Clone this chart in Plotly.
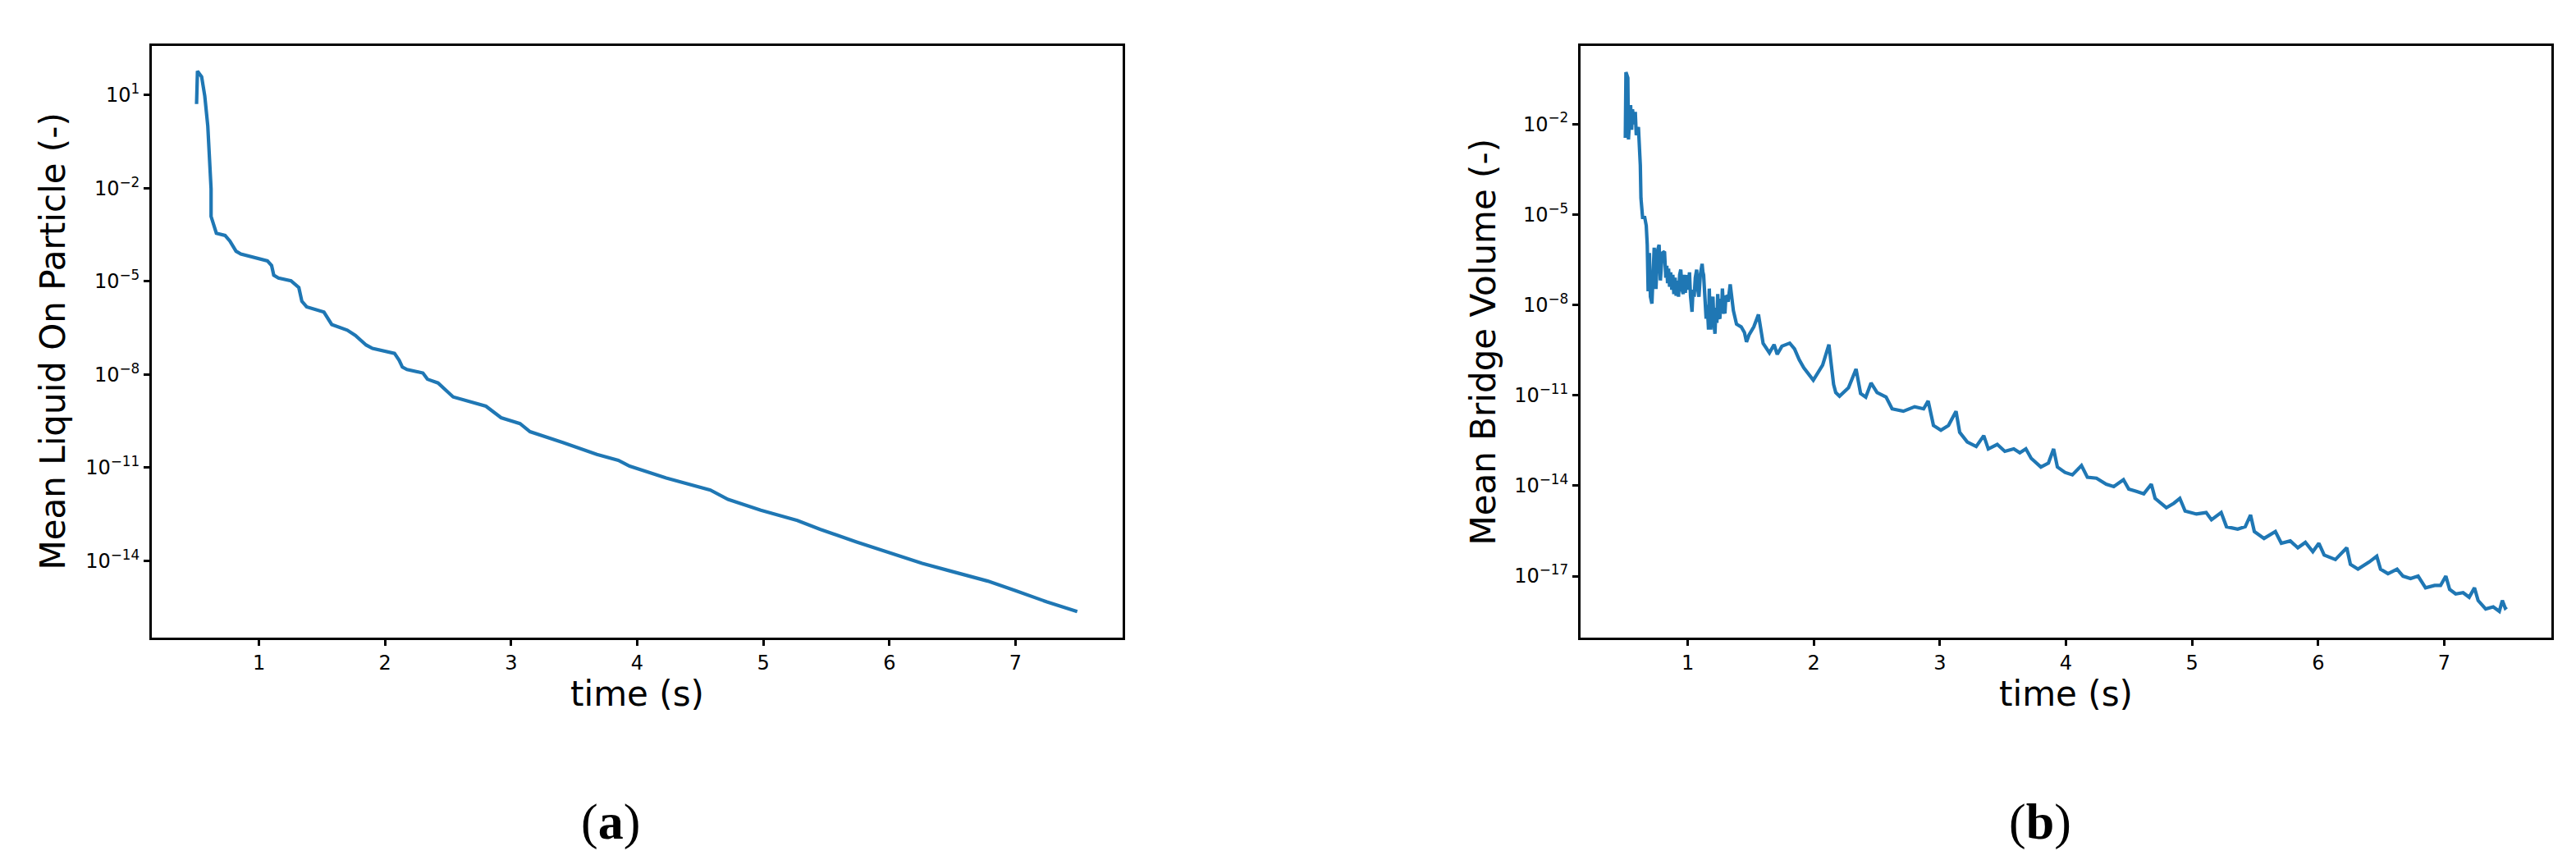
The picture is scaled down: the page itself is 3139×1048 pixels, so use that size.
import plotly.graph_objects as go

W, H = 3139, 1048

# ---- data (time in s, values stored as log10 exponents) ----
liquid_t = [0.505, 0.512, 0.545, 0.57, 0.594, 0.607, 0.62, 0.62, 0.644, 0.662, 0.731, 0.769,
            0.818, 0.856, 1.067, 1.1, 1.117, 1.154, 1.254, 1.316, 1.34, 1.378, 1.515, 1.553,
            1.577, 1.70, 1.764, 1.85, 1.90, 2.075, 2.112, 2.137, 2.174, 2.30, 2.336, 2.42,
            2.54, 2.80, 2.92, 3.07, 3.15, 3.41, 3.68, 3.85, 3.94, 4.23, 4.58, 4.72, 4.98,
            5.27, 5.45, 5.74, 6.03, 6.26, 6.46, 6.78, 7.0, 7.25, 7.49]
liquid_log10 = [0.71, 1.77, 1.59, 0.97, 0.0, -0.97, -2.02, -2.91, -3.26, -3.45, -3.52, -3.70,
                -4.03, -4.12, -4.34, -4.49, -4.80, -4.89, -4.98, -5.20, -5.64, -5.82, -5.99, -6.21,
                -6.39, -6.57, -6.74, -7.05, -7.16, -7.32, -7.54, -7.76, -7.84, -7.95, -8.15, -8.27,
                -8.72, -9.02, -9.39, -9.58, -9.84, -10.19, -10.57, -10.76, -10.95, -11.33, -11.72,
                -12.02, -12.37, -12.7, -12.98, -13.39, -13.77, -14.08, -14.3, -14.65, -14.96,
                -15.32, -15.63]

bridge_t = [0.505, 0.51, 0.525, 0.53, 0.547, 0.555, 0.562, 0.575, 0.584, 0.592, 0.609, 0.624,
            0.629, 0.642, 0.659, 0.671, 0.679, 0.686, 0.696, 0.704, 0.716, 0.734, 0.748, 0.761,
            0.773, 0.783, 0.798, 0.816,
            0.826, 0.834, 0.84, 0.848, 0.856, 0.865, 0.874, 0.882, 0.89, 0.90, 0.908, 0.918,
            0.927, 0.936, 0.945, 0.955, 0.964, 0.972, 0.981, 0.99, 1.0, 1.008, 1.014, 1.022,
            1.034, 1.042, 1.051, 1.06, 1.071, 1.08, 1.089, 1.10, 1.107, 1.114, 1.12, 1.126,
            1.146, 1.155, 1.165, 1.171, 1.177, 1.183, 1.19, 1.20, 1.208, 1.216, 1.224, 1.231,
            1.238, 1.246, 1.255, 1.262, 1.268, 1.275, 1.285, 1.295, 1.303, 1.312, 1.32, 1.328,
            1.337, 1.345, 1.362,
            1.387, 1.424, 1.45, 1.466, 1.486,
            1.524, 1.561, 1.578, 1.598, 1.648, 1.685, 1.71, 1.747, 1.809, 1.847, 1.884, 1.921,
            1.996, 2.07, 2.12, 2.157, 2.174, 2.204, 2.275, 2.335, 2.371, 2.412, 2.454, 2.502,
            2.573, 2.621, 2.71, 2.80, 2.871, 2.907, 2.949, 3.008, 3.068, 3.128, 3.157, 3.217,
            3.288, 3.348, 3.384, 3.455, 3.515, 3.586, 3.634, 3.682, 3.724, 3.801, 3.861, 3.902,
            3.932, 3.992, 4.051, 4.123, 4.17, 4.242, 4.319, 4.379, 4.456, 4.498, 4.558, 4.617,
            4.677, 4.707, 4.796, 4.856, 4.903, 4.945, 5.035, 5.112, 5.154, 5.231, 5.273, 5.362,
            5.422, 5.464, 5.494, 5.571, 5.661, 5.708, 5.779, 5.839, 5.899, 5.958, 6.006, 6.048,
            6.137, 6.227, 6.256, 6.316, 6.405, 6.465, 6.495, 6.554, 6.626, 6.673, 6.733, 6.793,
            6.852, 6.924, 6.971, 7.013, 7.043, 7.091, 7.15, 7.198, 7.24, 7.269, 7.329, 7.389,
            7.437, 7.461, 7.484, 7.496]
bridge_log10 = [-2.46, -0.28, -0.47, -2.51, -1.37, -2.19, -1.51, -2.01, -1.6, -2.37, -2.1, -3.37,
                -4.46, -5.1, -5.1, -5.37, -6.01, -7.55, -6.28, -7.73, -7.96, -6.1, -7.47, -6.19,
                -6.01, -7.19, -6.28, -6.23,
                -7.1, -6.7, -7.28, -6.8, -7.4, -6.92, -7.5, -7.0, -7.64, -7.1, -7.7, -7.2,
                -7.73, -7.0, -6.83, -7.5, -7.64, -7.0, -7.6, -7.01, -7.5, -6.95, -6.92, -7.7,
                -8.23, -7.5, -7.73, -7.1, -6.83, -7.5, -7.73, -7.0, -6.8, -6.64, -6.9, -7.01,
                -8.46, -8.0, -8.82, -7.46, -8.4, -8.82, -8.0, -7.73, -8.6, -8.96, -8.1, -8.6,
                -7.64, -8.4, -8.46, -7.8, -8.3, -7.46, -8.2, -8.28, -7.7, -7.73, -7.9, -7.5,
                -7.32, -7.6, -8.19,
                -8.64, -8.73, -8.92, -9.23, -9.0,
                -8.73, -8.32, -8.73, -9.28, -9.59, -9.32, -9.64, -9.37, -9.27, -9.46, -9.82, -10.09,
                -10.5, -10.0, -9.32, -10.64, -10.91, -11.03, -10.75, -10.13, -10.94, -11.06, -10.59,
                -10.91, -11.06, -11.45, -11.53, -11.38, -11.45, -11.19, -12.0, -12.16, -12.0,
                -11.53, -12.23, -12.55, -12.7, -12.34, -12.78, -12.63, -12.86, -12.78, -12.91,
                -12.78, -13.09, -13.38, -13.25, -12.78, -13.38, -13.56, -13.64, -13.33, -13.72,
                -13.75, -13.95, -14.03, -13.8, -14.11, -14.19, -14.27, -13.95, -14.42, -14.73,
                -14.58, -14.42, -14.84, -14.94, -14.89, -15.13, -14.89, -15.36, -15.44, -15.36,
                -14.97, -15.52, -15.75, -15.52, -15.91, -15.83, -16.06, -15.88, -16.19, -15.91,
                -16.3, -16.45, -16.06, -16.61, -16.77, -16.53, -16.34, -16.77, -16.92, -16.77,
                -17.0, -17.08, -17.0, -17.39, -17.31, -17.31, -17.0, -17.44, -17.59, -17.55,
                -17.7, -17.39, -17.81, -18.09, -18.02, -18.17, -17.81, -18.06, -18.02]

x_ticks = [1, 2, 3, 4, 5, 6, 7]
left_tick_exp = [1, -2, -5, -8, -11, -14]
right_tick_exp = [-2, -5, -8, -11, -14, -17]

x_label = "time (s)"
left_ylabel = "Mean Liquid On Particle (-)"
right_ylabel = "Mean Bridge Volume (-)"
captions = ["(<b>a</b>)", "(<b>b</b>)"]

# ---- layout geometry (pixels) ----
LX0, LX1 = 177, 1360
RX0, RX1 = 1918, 3101
Y_TOP, Y_BOT = 48, 769

def px(x):
    return x / W

def py(y):
    return 1 - y / H

COLOR = "#1f77b4"
FONT = "DejaVu Sans"

fig = go.Figure()
fig.add_trace(go.Scatter(x=liquid_t, y=[10 ** v for v in liquid_log10], mode="lines",
                         line=dict(color=COLOR, width=4.2), xaxis="x", yaxis="y",
                         showlegend=False))
fig.add_trace(go.Scatter(x=bridge_t, y=[10 ** v for v in bridge_log10], mode="lines",
                         line=dict(color=COLOR, width=4.2), xaxis="x2", yaxis="y2",
                         showlegend=False))

def sup_label(e):
    s = str(e).replace("-", "\u2212")
    return f"10<sup>{s}</sup>"

axis_common = dict(showline=True, linecolor="black", linewidth=3, mirror=True,
                   ticks="outside", ticklen=7, tickwidth=3, tickcolor="black",
                   showgrid=False, zeroline=False,
                   tickfont=dict(family=FONT, size=24, color="black"))

fig.update_layout(
    width=W, height=H,
    margin=dict(l=0, r=0, t=0, b=0),
    paper_bgcolor="white", plot_bgcolor="white",
    xaxis=dict(domain=[px(LX0), px(LX1)], range=[0.15, 7.85], tickvals=x_ticks,
               anchor="y", **axis_common),
    yaxis=dict(domain=[py(Y_BOT), py(Y_TOP)], type="log", range=[-16.47, 2.58],
               tickvals=[10 ** e for e in left_tick_exp],
               ticktext=[sup_label(e) for e in left_tick_exp], anchor="x", **axis_common),
    xaxis2=dict(domain=[px(RX0), px(RX1)], range=[0.15, 7.85], tickvals=x_ticks,
                anchor="y2", **axis_common),
    yaxis2=dict(domain=[py(Y_BOT), py(Y_TOP)], type="log", range=[-19.04, 0.59],
                tickvals=[10 ** e for e in right_tick_exp],
                ticktext=[sup_label(e) for e in right_tick_exp], anchor="x2", **axis_common),
)

title_font = dict(family=FONT, size=42, color="black")
ann = []
for cx in [(LX0 + LX1) / 2, (RX0 + RX1) / 2]:
    ann.append(dict(text=x_label, x=px(cx), y=py(837), xref="paper", yref="paper",
                    xanchor="center", yanchor="middle", showarrow=False, font=title_font))
ann.append(dict(text=left_ylabel, x=px(56), y=py((Y_TOP + Y_BOT) / 2), xref="paper",
                yref="paper", xanchor="center", yanchor="middle", textangle=-90,
                showarrow=False, font=title_font))
ann.append(dict(text=right_ylabel, x=px(1799), y=py((Y_TOP + Y_BOT) / 2), xref="paper",
                yref="paper", xanchor="center", yanchor="middle", textangle=-90,
                showarrow=False, font=title_font))
for cap, cx in zip(captions, [736, 2478]):
    ann.append(dict(text=cap, x=px(cx), y=py(993), xref="paper", yref="paper",
                    xanchor="center", yanchor="middle", showarrow=False,
                    font=dict(family="Liberation Serif", size=62, color="black")))
fig.update_layout(annotations=ann)

fig.write_html("out.html")
